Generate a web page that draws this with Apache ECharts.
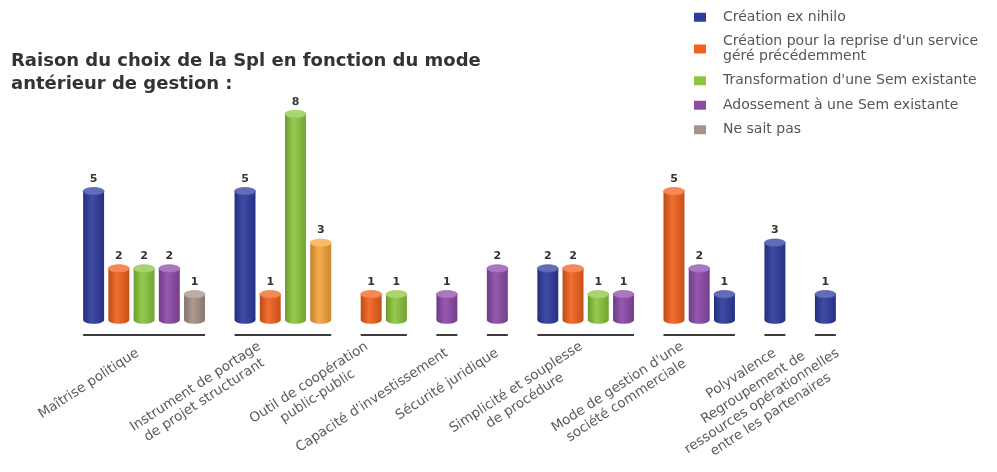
<!DOCTYPE html>
<html><head><meta charset="utf-8">
<script src="https://cdn.jsdelivr.net/npm/echarts@6/dist/echarts.min.js"></script>
<style>html,body{margin:0;padding:0;background:#fff}#c{width:997px;height:472px}</style>
</head><body><div id="c"></div>
<script>
// ---------- data ----------
const titleText = 'Raison du choix de la Spl en fonction du mode\nantérieur de gestion :';
const categories = [
  'Maîtrise politique',
  'Instrument de portage\nde projet structurant',
  'Outil de coopération\npublic-public',
  "Capacité d'investissement",
  'Sécurité juridique',
  'Simplicité et souplesse\nde procédure',
  "Mode de gestion d'une\nsociété commerciale",
  'Polyvalence',
  'Regroupement de\nressources opérationnelles\nentre les partenaires'
];
const seriesNames = [
  'Création ex nihilo',
  "Création pour la reprise d'un service\ngéré précédemment",
  "Transformation d'une Sem existante",
  'Adossement à une Sem existante',
  'Ne sait pas',
  'Autre'
];
const creationExNihilo = [5, 5, null, null, null, 2, 1, 3, 1];
const creationReprise  = [2, 1, 1, null, null, 2, 5, null, null];
const transformation   = [2, 8, 1, null, null, 1, null, null, null];
const adossement       = [2, null, null, 1, 2, 1, 2, null, null];
const neSaitPas        = [1, null, null, null, null, null, null, null, null];
const autre            = [null, 3, null, null, null, null, null, null, null];
// order of the bars inside each category (series indices)
const barOrder = [[0,1,2,3,4],[0,1,2,5],[1,2],[3],[3],[0,1,2,3],[1,3,0],[0],[0]];

// ---------- style / layout ----------
const colors = ['#2d3c9e', '#f1621f', '#8cc63f', '#8d4ba9', '#a69289', '#f7a53c'];
const labelShift = [-0.25, -0.75, -0.5, 0, 0, 0, -0.5, 0, 0.5];
const FONT = '"DejaVu Sans", "Open Sans", sans-serif';

const allValues = [creationExNihilo, creationReprise, transformation, adossement, neSaitPas, autre];

// compute slot layout
const seriesData = allValues.map(() => []);
const groupRanges = [];
let slot = 0;
barOrder.forEach((order, ci) => {
  const start = slot;
  order.forEach(si => {
    seriesData[si].push([slot, allValues[si][ci]]);
    slot++;
  });
  groupRanges.push([start, slot - 1]);
  slot++; // gap
});
const nSlots = slot - 1;
const slotCats = Array.from({length: nSlots}, (_, i) => String(i));
const nLab = nSlots * 4 + 1;
const labelCats = Array.from({length: nLab}, () => '');
groupRanges.forEach((g, i) => {
  const c = (g[0] + g[1]) / 2 + labelShift[i];
  let k = Math.round(4 * c + 2);
  k = Math.max(0, Math.min(nLab - 1, k));
  labelCats[k] = categories[i];
});

function shade(hex, f) {
  const n = parseInt(hex.slice(1), 16);
  let r = (n >> 16) & 255, g = (n >> 8) & 255, b = n & 255;
  const m = c => Math.round(f >= 0 ? c + (255 - c) * f : c * (1 + f));
  return 'rgb(' + m(r) + ',' + m(g) + ',' + m(b) + ')';
}

function renderCyl(params, api) {
  const x = api.value(0), v = api.value(1);
  const top = api.coord([x, v]);
  const base = api.coord([x, 0]);
  const w = api.size([1, 0])[0] * 0.83;
  const ry = 3.8;
  const col = api.visual('color');
  const grad = new echarts.graphic.LinearGradient(0, 0, 1, 0, [
    {offset: 0, color: shade(col, -0.22)},
    {offset: 0.4, color: shade(col, 0.08)},
    {offset: 1, color: shade(col, -0.18)}
  ]);
  return {
    type: 'group',
    children: [
      {type: 'ellipse', shape: {cx: base[0], cy: base[1], rx: w / 2, ry: ry}, style: {fill: grad}},
      {type: 'rect', shape: {x: top[0] - w / 2, y: top[1], width: w, height: base[1] - top[1]}, style: {fill: grad}},
      {type: 'ellipse', shape: {cx: top[0], cy: top[1], rx: w / 2, ry: ry}, style: {fill: shade(col, 0.25), stroke: shade(col, 0.1), lineWidth: 0.6}},
      {type: 'text', style: {text: String(v), x: top[0], y: top[1] - ry - 3, align: 'center', verticalAlign: 'bottom',
        font: 'bold 11px ' + FONT, fill: '#333'}}
    ]
  };
}

function renderLine(params, api) {
  const s = api.value(0), e = api.value(1);
  const w = api.size([1, 0])[0] * 0.83;
  const p0 = api.coord([s, 0]), p1 = api.coord([e, 0]);
  const y = p0[1] + 15;
  return {type: 'line', shape: {x1: p0[0] - w / 2, y1: y, x2: p1[0] + w / 2, y2: y},
    style: {stroke: '#3a3a3a', lineWidth: 2}};
}

const series = seriesNames.map((name, i) => ({
  type: 'custom',
  name: name,
  xAxisIndex: 0,
  yAxisIndex: 0,
  clip: false,
  itemStyle: {color: colors[i]},
  encode: {x: 0, y: 1},
  renderItem: renderCyl,
  data: seriesData[i]
}));
series.push({
  type: 'custom',
  name: 'baselines',
  xAxisIndex: 0,
  yAxisIndex: 0,
  clip: false,
  silent: true,
  encode: {x: [0, 1]},
  renderItem: renderLine,
  data: groupRanges
});

const chart = echarts.init(document.getElementById('c'), null, {renderer: 'canvas'});
chart.setOption({
  animation: false,
  backgroundColor: '#fff',
  title: {
    text: titleText, left: 6, top: 45,
    textStyle: {fontFamily: FONT, fontSize: 18, fontWeight: 'bold', color: '#333', lineHeight: 23}
  },
  legend: {
    data: seriesNames.slice(0, 5),
    orient: 'vertical', left: 694, top: 10, padding: 0,
    itemWidth: 12, itemHeight: 9, itemGap: 10, icon: 'rect',
    textStyle: {fontFamily: FONT, fontSize: 14, color: '#555', lineHeight: 14.5, padding: [0, 0, 0, 12]}
  },
  grid: {left: 81, right: 159, top: 114, bottom: 152, outerBoundsMode: 'none', containLabel: false},
  xAxis: [
    {type: 'category', data: slotCats, boundaryGap: true, show: false},
    {type: 'category', data: labelCats, boundaryGap: false, position: 'bottom',
     axisLine: {show: false}, axisTick: {show: false}, splitLine: {show: false},
     axisLabel: {interval: 0, rotate: 33, margin: 32, color: '#5a5a5a', fontFamily: FONT, fontSize: 13.5, lineHeight: 16,
       formatter: v => v ? v.split('\n').map(l => '{c|' + l + '}').join('\n') : '',
       rich: {c: {align: 'center', color: '#5a5a5a', fontFamily: FONT, fontSize: 13.5, lineHeight: 16}}}}
  ],
  yAxis: {type: 'value', min: 0, max: 8, show: false},
  series: series
});
</script>
</body></html>
